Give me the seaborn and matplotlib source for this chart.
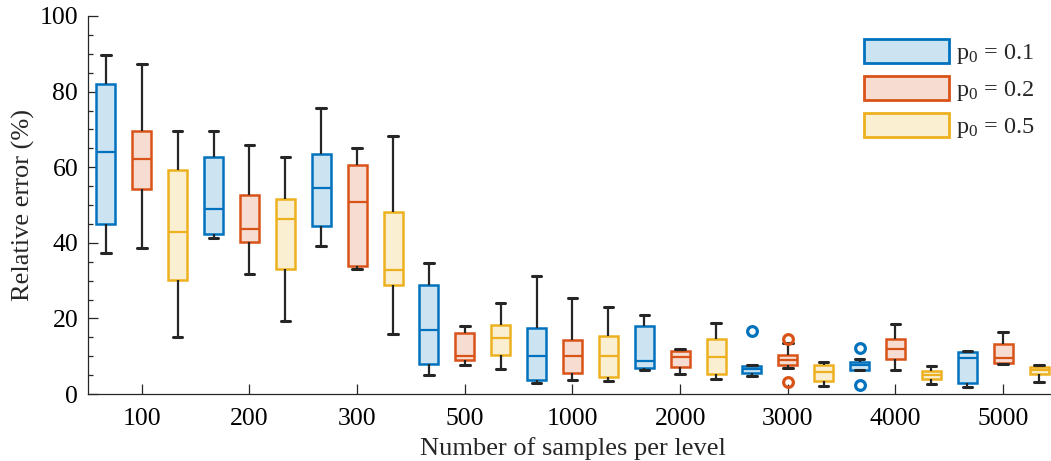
import numpy as np
import pandas as pd
import matplotlib
matplotlib.use("Agg")
import matplotlib.pyplot as plt
from matplotlib.patches import Patch
from matplotlib.ticker import AutoMinorLocator, MultipleLocator
import seaborn as sns

# ---------------- data ----------------
groups = ["100", "200", "300", "500", "1000", "2000", "3000", "4000", "5000"]
p0_levels = ["0.1", "0.2", "0.5"]

# p0 = 0.1
lo_01  = [37.4, 41.4, 39.2, 5.0, 2.9, 6.3, 4.8, 6.3, 1.9]
q1_01  = [45.0, 42.2, 44.4, 7.9, 3.7, 6.8, 5.6, 6.4, 2.8]
med_01 = [64.1, 48.9, 54.4, 16.9, 10.1, 8.7, 6.5, 7.7, 9.4]
q3_01  = [82.0, 62.8, 63.4, 28.8, 17.4, 18.0, 7.5, 8.5, 11.2]
hi_01  = [89.7, 69.5, 75.7, 34.6, 31.2, 20.8, 7.6, 9.3, 11.4]
out_01 = {"3000": [16.7], "4000": [2.4, 12.3]}

# p0 = 0.2
lo_02  = [38.6, 31.7, 33.0, 7.8, 3.7, 5.3, 7.0, 6.4, 7.9]
q1_02  = [54.3, 40.1, 33.9, 9.0, 5.6, 7.2, 7.7, 9.3, 8.3]
med_02 = [62.1, 43.6, 50.8, 10.1, 10.1, 9.9, 9.0, 11.9, 9.6]
q3_02  = [69.6, 52.6, 60.7, 16.2, 14.3, 11.5, 10.3, 14.6, 13.2]
hi_02  = [87.3, 65.8, 65.2, 18.0, 25.5, 11.8, 13.6, 18.4, 16.5]
out_02 = {"3000": [3.3, 14.6]}

# p0 = 0.5
lo_05  = [15.0, 19.3, 16.0, 6.5, 3.4, 3.9, 2.2, 2.6, 3.2]
q1_05  = [30.2, 33.0, 28.8, 10.3, 4.6, 5.2, 3.4, 4.0, 5.4]
med_05 = [42.9, 46.3, 32.9, 14.7, 10.1, 9.7, 5.9, 5.0, 6.3]
q3_05  = [59.3, 51.6, 48.1, 18.3, 15.3, 14.5, 7.7, 6.2, 7.2]
hi_05  = [69.7, 62.8, 68.3, 24.2, 23.1, 18.9, 8.5, 7.5, 7.7]
out_05 = {}

summaries = {
    "0.1": (lo_01, q1_01, med_01, q3_01, hi_01, out_01),
    "0.2": (lo_02, q1_02, med_02, q3_02, hi_02, out_02),
    "0.5": (lo_05, q1_05, med_05, q3_05, hi_05, out_05),
}

# Build samples whose box statistics reproduce the summaries
rows = []
for lvl, (lo, q1, med, q3, hi, outs) in summaries.items():
    for i, g in enumerate(groups):
        vals = [lo[i], lo[i], q1[i], med[i], med[i], med[i], q3[i], hi[i], hi[i]]
        for o in outs.get(g, []):
            if o < q1[i]:
                vals[0] = o
            else:
                vals[8] = o
        for v in vals:
            rows.append({"n": g, "p0": lvl, "err": v})
df = pd.DataFrame(rows)

# ---------------- style ----------------
sns.set_style("ticks")
plt.rcParams["font.family"] = ["Liberation Serif", "DejaVu Serif"]
plt.rcParams["mathtext.fontset"] = "custom"
plt.rcParams["mathtext.rm"] = "Liberation Serif"
plt.rcParams["mathtext.it"] = "Liberation Serif:italic"

edge_colors = {"0.1": "#0072BD", "0.2": "#D95319", "0.5": "#EDB120"}
fill_colors = {"0.1": "#CCE3F2", "0.2": "#F7DDD1", "0.5": "#FBEFD2"}
dark = "#262626"

fig = plt.figure(figsize=(10.51, 4.61), dpi=100)
ax = fig.add_axes([0.0837, 0.1453, 0.922, 0.820])

for lvl in p0_levels:
    sns.boxplot(
        data=df[df["p0"] == lvl], x="n", y="err", hue="p0",
        order=groups, hue_order=p0_levels, palette=fill_colors,
        dodge=True, width=1.0, gap=0.47, saturation=1, whis=1.5,
        linecolor=edge_colors[lvl], linewidth=1.8,
        whiskerprops={"color": dark, "linewidth": 1.6},
        capprops={"color": dark, "linewidth": 2.2},
        medianprops={"color": edge_colors[lvl], "linewidth": 1.6},
        flierprops={"marker": "o", "markersize": 7, "markeredgewidth": 2.3,
                    "markerfacecolor": "none",
                    "markeredgecolor": edge_colors[lvl]},
        legend=False, ax=ax,
    )

ax.set_xlim(-0.5, 8.5)
ax.set_ylim(0, 100)
ax.yaxis.set_major_locator(MultipleLocator(20))
ax.yaxis.set_minor_locator(AutoMinorLocator(4))
ax.set_xticks(range(len(groups)))
ax.set_xticklabels(groups)

for s in ["top", "right"]:
    ax.spines[s].set_visible(False)
for s in ["left", "bottom"]:
    ax.spines[s].set_color(dark)
    ax.spines[s].set_linewidth(0.9)

ax.tick_params(axis="both", which="major", direction="in", length=7,
               width=0.9, color=dark, labelsize=18.5, labelcolor="black")
ax.tick_params(axis="y", which="minor", direction="in", length=3.5,
               width=0.9, color=dark)
ax.tick_params(axis="x", which="major", pad=10)
ax.tick_params(axis="y", which="major", pad=7)

ax.set_xlabel("Number of samples per level", fontsize=19, labelpad=5)
ax.set_ylabel("Relative error (%)", fontsize=19, labelpad=3)

handles = [Patch(facecolor=fill_colors[l], edgecolor=edge_colors[l], linewidth=2.0)
           for l in p0_levels]
labels = [r"$\mathrm{p}_0$ = " + l for l in p0_levels]
ax.legend(handles, labels, loc="upper left", bbox_to_anchor=(0.8008, 0.94),
          frameon=False, fontsize=17.5, handlelength=3.5, handleheight=1.15,
          labelspacing=0.4, handletextpad=0.3, borderaxespad=0, borderpad=0)

fig.savefig("out.png", dpi=100)
